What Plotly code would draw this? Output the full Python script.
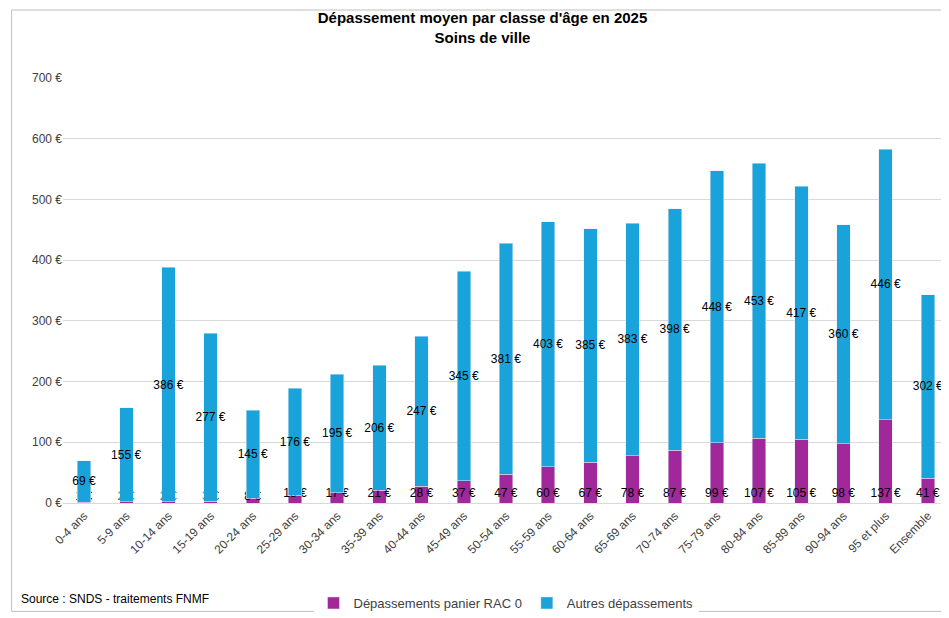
import plotly.graph_objects as go

categories = ["0-4 ans","5-9 ans","10-14 ans","15-19 ans","20-24 ans","25-29 ans","30-34 ans","35-39 ans","40-44 ans","45-49 ans","50-54 ans","55-59 ans","60-64 ans","65-69 ans","70-74 ans","75-79 ans","80-84 ans","85-89 ans","90-94 ans","95 et plus","Ensemble"]
rac0 = [1,2,2,3,8,13,17,21,28,37,47,60,67,78,87,99,107,105,98,137,41]
autres = [69,155,386,277,145,176,195,206,247,345,381,403,385,383,398,448,453,417,360,446,302]

purple = "#A0289A"
blue = "#1AA3DA"

fig = go.Figure()
fig.add_bar(x=categories, y=rac0, name="Dépassements panier RAC 0", marker_color=purple,
            text=[f"{v} €" for v in rac0], textposition="inside", insidetextanchor="start",
            textangle=0, constraintext="none", textfont=dict(color="black", size=12, family="Liberation Sans"))
fig.add_bar(x=categories, y=autres, name="Autres dépassements", marker_color=blue,
            text=[f"{v} €" for v in autres], textposition="inside", insidetextanchor="middle",
            textangle=0, constraintext="none", textfont=dict(color="black", size=12, family="Liberation Sans"))

fig.update_layout(
    barmode="stack", bargap=0.68, width=949, height=618,
    paper_bgcolor="white", plot_bgcolor="white",
    font=dict(family="Liberation Sans", size=12, color="#404040"),
    uniformtext=dict(minsize=12, mode="show"),
    title=dict(text="<b>Dépassement moyen par classe d'âge en 2025<br>Soins de ville</b>",
               x=0.5, y=0.975, xanchor="center", yanchor="top", font=dict(size=15, color="black")),
    margin=dict(l=55, r=8, t=70, b=110),
    legend=dict(orientation="h", x=0.5, xanchor="center", y=-0.2, yanchor="top",
                font=dict(size=13, color="#404040"), traceorder="normal"),
    xaxis=dict(tickangle=-45, tickfont=dict(size=12, color="#404040"), showline=True, linecolor="#d9d9d9"),
    yaxis=dict(range=[0,700], dtick=100, ticksuffix=" €", gridcolor="#d9d9d9",
               tickfont=dict(size=12, color="#404040"), zeroline=False),
    shapes=[dict(type="rect", xref="paper", yref="paper", x0=-0.058, x1=1.008, y0=-0.255, y1=1.16,
                 line=dict(color="#bfbfbf", width=1))],
    annotations=[dict(text="Source : SNDS - traitements FNMF", xref="paper", yref="paper",
                      x=-0.05, y=-0.205, xanchor="left", yanchor="top", showarrow=False,
                      font=dict(size=12, color="black"))],
)
fig.write_html("out.html")
